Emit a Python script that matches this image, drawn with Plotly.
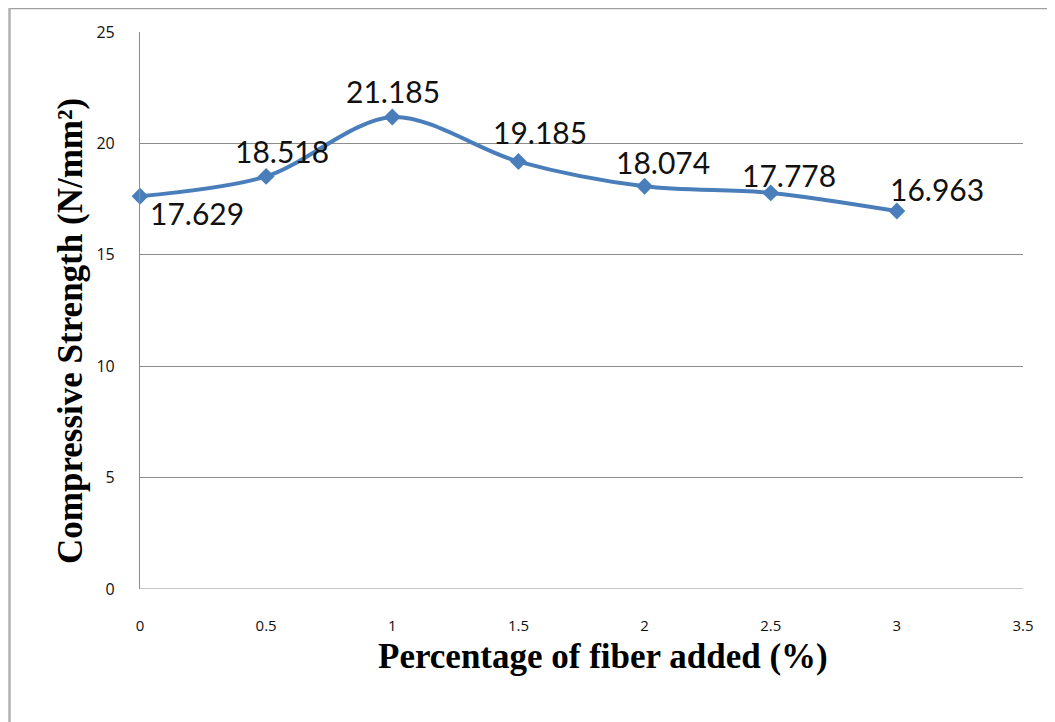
import plotly.graph_objects as go

fiber_pct = [0, 0.5, 1, 1.5, 2, 2.5, 3]
strength = [17.629, 18.518, 21.185, 19.185, 18.074, 17.778, 16.963]
x_ticks = [0, 0.5, 1, 1.5, 2, 2.5, 3, 3.5]
y_ticks = [0, 5, 10, 15, 20, 25]

# label placement (pixel offsets from each marker)
label_dx = [57, 16, 1, 22, 18, 18, 40]
label_dy = [-17, 25, 26, 30, 24, 18, 22]

# page offsets by body margin (8px), so size the figure to fit the window
W, H = 1047, 714
L, R, T, B = 132, 32, 24, 133
PW, PH = W - L - R, H - T - B

def px_x(px):
    return (px - L) / PW

def px_y(py):
    return (H - B - py) / PH

BLUE = "#4A7EBB"
GRID = "#8C8C8C"

fig = go.Figure()
fig.add_trace(go.Scatter(
    x=fiber_pct, y=strength,
    mode="lines+markers",
    line=dict(color=BLUE, width=4, shape="spline", smoothing=0.9),
    marker=dict(symbol="diamond", size=13, color=BLUE),
    cliponaxis=False,
    showlegend=False,
))

annotations = []
for xv, yv, dx, dy in zip(fiber_pct, strength, label_dx, label_dy):
    annotations.append(dict(
        x=xv, y=yv, xref="x", yref="y", text=f"{yv:.3f}", showarrow=False,
        xshift=dx, yshift=dy, xanchor="center", yanchor="middle",
        font=dict(family="Lato, Open Sans, sans-serif", size=30, color="#111111"),
    ))

annotations.append(dict(
    x=px_x(62), y=px_y(323), xref="paper", yref="paper",
    text="<b>Compressive Strength (N/mm²)</b>", textangle=-90, showarrow=False,
    xanchor="center", yanchor="middle",
    font=dict(family="Liberation Serif, Times New Roman, serif", size=35, color="#000000"),
))
annotations.append(dict(
    x=px_x(595), y=px_y(648), xref="paper", yref="paper",
    text="<b>Percentage of fiber added (%)</b>", showarrow=False,
    xanchor="center", yanchor="middle",
    font=dict(family="Liberation Serif, Times New Roman, serif", size=35, color="#000000"),
))

fig.update_xaxes(
    range=[0, 3.5], tickvals=x_ticks, ticktext=[f"{t:g}" for t in x_ticks],
    showgrid=False, zeroline=False, showline=False,
    ticks="", ticklabelstandoff=26,
    tickfont=dict(family="Open Sans, sans-serif", size=15, color="#111111"),
)
fig.update_yaxes(
    range=[0, 25], tickvals=y_ticks,
    showgrid=True, gridcolor=GRID, gridwidth=1.2,
    zeroline=False, showline=True, linecolor=GRID, linewidth=1.2,
    ticks="", ticklabelstandoff=21,
    tickfont=dict(family="Open Sans, sans-serif", size=16, color="#111111"),
)

shapes = [
    dict(type="line", xref="x", yref="y", x0=0, x1=3.5, y0=0, y1=0,
         line=dict(color=GRID, width=1.2)),
    # window frame (top and left)
    dict(type="line", xref="paper", yref="paper",
         x0=px_x(1), x1=px_x(W), y0=px_y(0), y1=px_y(0),
         line=dict(color="#A0A0A0", width=2.5)),
    dict(type="line", xref="paper", yref="paper",
         x0=px_x(1.5), x1=px_x(1.5), y0=px_y(0), y1=px_y(H),
         line=dict(color="#B0B0B0", width=2.5)),
]

fig.update_layout(
    width=W, height=H,
    margin=dict(l=L, r=R, t=T, b=B),
    paper_bgcolor="white", plot_bgcolor="white",
    shapes=shapes, annotations=annotations,
)

fig.write_html("out.html")
